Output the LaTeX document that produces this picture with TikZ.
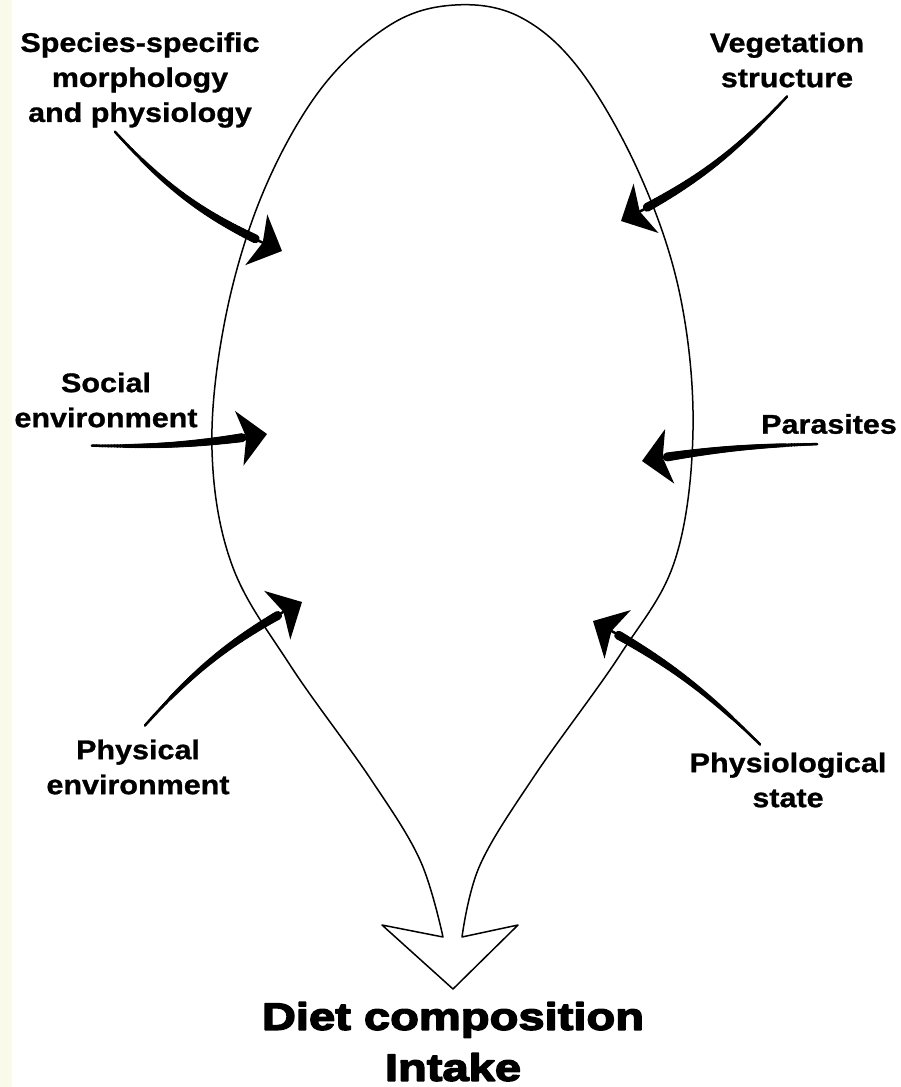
\documentclass[tikz,border=0pt]{standalone}
\usepackage{fontspec}
\setmainfont{Liberation Sans}
\newfontfamily\labelfont[FakeStretch=1.13,FakeBold=1]{Liberation Sans Bold}
\newfontfamily\titlefont[FakeStretch=1.24,FakeBold=4]{Liberation Sans Bold}
\usetikzlibrary{arrows.meta, decorations.markings}
\definecolor{scanyellow}{RGB}{249,250,234}
\tikzset{>=latex}

\begin{document}
\begin{tikzpicture}[x=1pt, y=-1pt, line cap=round, line join=round,
    factor/.style={font=\labelfont\fontsize{27}{35}\selectfont, align=center, inner sep=0pt},
    outcome/.style={font=\titlefont\fontsize{38}{51}\selectfont, align=center, inner sep=0pt},
    push/.style={line width=2.5pt, -{Stealth[length=28pt,width=55pt,inset=7pt]},
        postaction={decorate, decoration={markings,
        mark=between positions 0 and 0.86 step 1.5pt with {% thicker towards the head
            \pgfmathsetmacro\rr{1.3+3.8*\pgfkeysvalueof{/pgf/decoration/mark info/distance from start}/\pgfdecoratedpathlength}
            \fill circle (\rr pt);}}}},
    bulb/.style={line width=1.5pt}]
    \useasboundingbox (0,0) rectangle (901,1087);
    \fill[scanyellow] (0,0) rectangle (12,1087);

    % the funnel with its open arrow head
    \draw[bulb] (462,937) -- (518,925) -- (453,989) -- (382,925) -- (443,937)
        -- plot[smooth, tension=0.6] coordinates {(443,937) (420,860) (370,778)
        (290,665) (232,565) (212,450) (225,320) (262,195) (320,90) (390,25)
        (455,5) (520,17) (580,70) (640,175) (680,295) (693,430) (675,560)
        (620,655) (535,775) (480,865) (462,937)};

    % factors
    \node[factor] (species) at (140,80) {Species-specific\\morphology\\and physiology};
    \node[factor] (vegetation) at (787,60) {Vegetation\\structure};
    \node[factor] (social) at (106,400) {Social\\environment};
    \node[factor] (parasites) at (829,424) {Parasites};
    \node[factor] (physical) at (138,767) {Physical\\environment};
    \node[factor] (physiological) at (788,780) {Physiological\\state};
    \node[outcome, anchor=north] (diet) at (453,1002) {Diet composition\\Intake};

    % arrow tips inside the funnel
    \coordinate (speciesTip) at (282,251);
    \coordinate (vegetationTip) at (621,221);
    \coordinate (socialTip) at (267,434);
    \coordinate (parasitesTip) at (642,461);
    \coordinate (physicalTip) at (302,602);
    \coordinate (physiologicalTip) at (593,621);

    \draw[push] ([xshift=-25pt,yshift=-4pt]species.south) to[bend right=12] (speciesTip);
    \draw[push] ([xshift=0pt,yshift=-9pt]vegetation.south) to[bend left=10] (vegetationTip);
    \draw[push] ([xshift=-14pt,yshift=-18pt]social.south) to[bend right=5] (socialTip);
    \draw[push] ([xshift=-12pt,yshift=-10pt]parasites.south) to[bend right=4] (parasitesTip);
    \draw[push] ([xshift=7pt,yshift=14pt]physical.north) to[bend left=10] (physicalTip);
    \draw[push] ([xshift=-28pt,yshift=8pt]physiological.north) to[bend right=8] (physiologicalTip);
\end{tikzpicture}
\end{document}
